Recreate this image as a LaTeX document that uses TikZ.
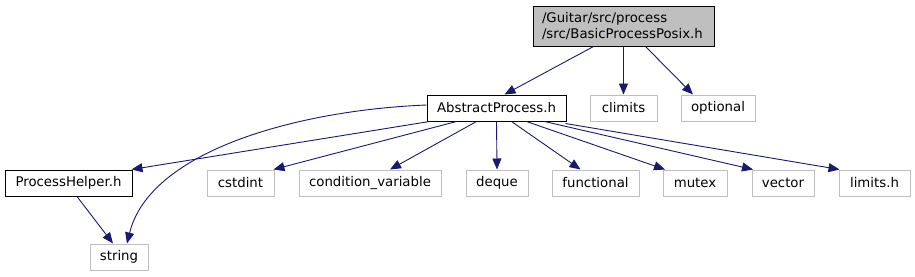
\documentclass[tikz,border=0pt]{standalone}
\usepackage{fontspec}
\setmainfont{DejaVu Sans}
\usepackage{tikz}
\usetikzlibrary{arrows.meta}
\definecolor{edgeblue}{HTML}{191970}
\definecolor{sysgrey}{HTML}{BFBFBF}

\begin{document}
\begin{tikzpicture}[x=1pt,y=-1pt,font=\fontsize{13.3}{15.5}\selectfont,
    file/.style={draw=black,line width=1pt,minimum height=26pt,inner sep=0pt},
    sys/.style={draw=sysgrey,line width=1pt,minimum height=26pt,inner sep=0pt},
    dep/.style={draw=edgeblue,line width=0.9pt,-{Triangle[length=11pt,width=9pt]}}]
  \useasboundingbox (0,0) rectangle (915,276);
  % root file
  \node[file,fill=sysgrey,minimum width=181pt,minimum height=40pt,align=left,
        text width=163pt] (posix) at (623.5,26) {/Guitar/src/process\\/src/BasicProcessPosix.h};
  % first level
  \node[file,minimum width=139pt] (abstract) at (496.5,108) {AbstractProcess.h};
  \node[sys,minimum width=67pt] (climits) at (623.5,108) {climits};
  \node[sys,minimum width=74pt] (optional) at (718,108) {optional};
  % second level
  \node[file,minimum width=127pt] (helper) at (68.5,183) {ProcessHelper.h};
  \node[sys,minimum width=67pt] (cstdint) at (240.5,183) {cstdint};
  \node[sys,minimum width=142pt] (condvar) at (370,183) {condition\_variable};
  \node[sys,minimum width=62pt] (deque) at (497,183) {deque};
  \node[sys,minimum width=87pt] (functional) at (595.5,183) {functional};
  \node[sys,minimum width=64pt] (mutex) at (695,183) {mutex};
  \node[sys,minimum width=62pt] (vector) at (783,183) {vector};
  \node[sys,minimum width=71pt] (limits) at (874.5,183) {limits.h};
  \node[sys,minimum width=58pt] (string) at (119,257) {string};
  % includes
  \draw[dep] ([xshift=-30pt]posix.south) -- ([xshift=8pt]abstract.north);
  \draw[dep] (posix.south) -- (climits.north);
  \draw[dep] ([xshift=22pt]posix.south) -- ([xshift=-25pt]optional.north);
  \draw[dep] ([xshift=3pt]abstract.south west) -- ([xshift=-1pt]helper.north east);
  \draw[dep] ([yshift=3pt]abstract.west) .. controls (300,110) and (150,150) .. ([xshift=8pt]string.north);
  \draw[dep] ([xshift=-40pt]abstract.south) -- ([xshift=-1pt]cstdint.north east);
  \draw[dep] ([xshift=-20pt]abstract.south) -- ([xshift=20pt]condvar.north);
  \draw[dep] (abstract.south) -- (deque.north);
  \draw[dep] ([xshift=15pt]abstract.south) -- ([xshift=-15pt]functional.north);
  \draw[dep] ([xshift=30pt]abstract.south) -- ([xshift=-30pt]mutex.north);
  \draw[dep] ([xshift=48pt]abstract.south) -- ([xshift=-30pt]vector.north);
  \draw[dep] ([xshift=-1pt,yshift=-2pt]abstract.south east) -- ([xshift=1pt]limits.north west);
  \draw[dep] ([xshift=8.5pt]helper.south) -- ([xshift=-6pt]string.north);
\end{tikzpicture}
\end{document}
